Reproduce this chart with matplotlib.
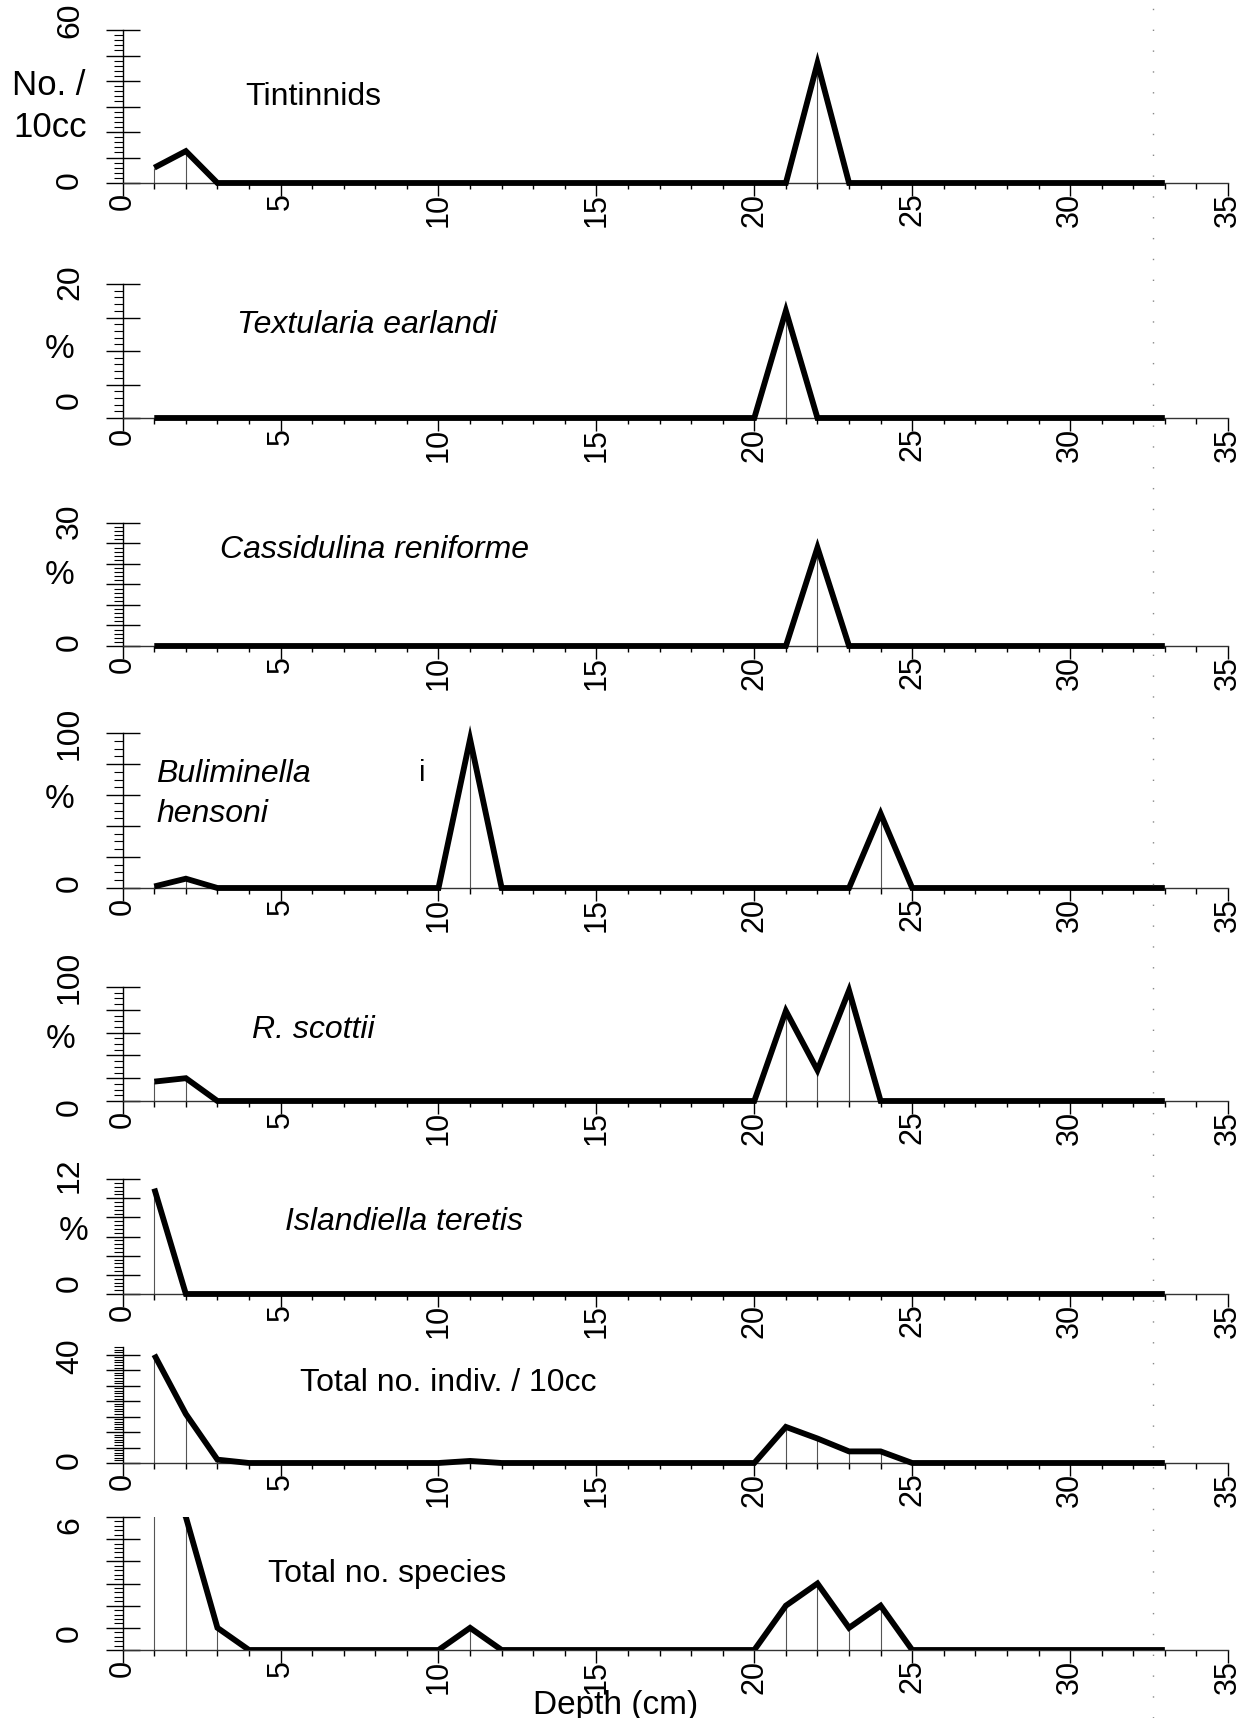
import matplotlib
matplotlib.use('Agg')
import matplotlib.pyplot as plt
from matplotlib.ticker import MultipleLocator
from matplotlib.transforms import offset_copy
from matplotlib.lines import Line2D

plt.rcParams['font.family'] = ['Liberation Sans', 'DejaVu Sans']

# --- data (depth in cm, one value per 1 cm sample) ---
depth = list(range(1, 34))

tintinnids = [6, 12.5, 0, 0, 0, 0, 0, 0, 0, 0,
              0, 0, 0, 0, 0, 0, 0, 0, 0, 0,
              0, 47, 0, 0, 0, 0, 0, 0, 0, 0,
              0, 0, 0]
textularia = [0, 0, 0, 0, 0, 0, 0, 0, 0, 0,
              0, 0, 0, 0, 0, 0, 0, 0, 0, 0,
              16, 0, 0, 0, 0, 0, 0, 0, 0, 0,
              0, 0, 0]
cassidulina = [0, 0, 0, 0, 0, 0, 0, 0, 0, 0,
               0, 0, 0, 0, 0, 0, 0, 0, 0, 0,
               0, 24, 0, 0, 0, 0, 0, 0, 0, 0,
               0, 0, 0]
buliminella = [1, 6, 0, 0, 0, 0, 0, 0, 0, 0,
               96, 0, 0, 0, 0, 0, 0, 0, 0, 0,
               0, 0, 0, 48, 0, 0, 0, 0, 0, 0,
               0, 0, 0]
r_scottii = [17, 20, 0, 0, 0, 0, 0, 0, 0, 0,
             0, 0, 0, 0, 0, 0, 0, 0, 0, 0,
             79, 27, 97, 0, 0, 0, 0, 0, 0, 0,
             0, 0, 0]
islandiella = [11, 0, 0, 0, 0, 0, 0, 0, 0, 0,
               0, 0, 0, 0, 0, 0, 0, 0, 0, 0,
               0, 0, 0, 0, 0, 0, 0, 0, 0, 0,
               0, 0, 0]
total_indiv = [42, 19, 1.3, 0, 0, 0, 0, 0, 0, 0,
               0.8, 0, 0, 0, 0, 0, 0, 0, 0, 0,
               14, 9.5, 4.5, 4.5, 0, 0, 0, 0, 0, 0,
               0, 0, 0]
total_species = [9, 6, 1, 0, 0, 0, 0, 0, 0, 0,
                 1, 0, 0, 0, 0, 0, 0, 0, 0, 0,
                 2, 3, 1, 2, 0, 0, 0, 0, 0, 0,
                 0, 0, 0]

series = [tintinnids, textularia, cassidulina, buliminella,
          r_scottii, islandiella, total_indiv, total_species]
y_max = [60, 20, 30, 100, 100, 12, 45, 6]
y_major = [10, 5, 5, 20, 20, 2, 6, 1]
y_minor = [2, 1, 1, 5, 5, 0.4, 1, 0.2]
y_labels = [[(0, '0'), (60, '60')], [(0, '0'), (20, '20')],
            [(0, '0'), (30, '30')], [(0, '0'), (100, '100')],
            [(0, '0'), (100, '100')], [(0, '0'), (12, '12')],
            [(0, '0'), (40, '40')], [(0, '0'), (6, '6')]]

# --- layout in pixels of the 1255x1718 canvas ---
W, H = 1255, 1718
x0_px, x35_px = 122.7, 1228
panel_px = [(30, 183), (284, 418), (523, 646), (733, 888),
            (987, 1101), (1179, 1294), (1347, 1463), (1517, 1650)]
ylab_dy = [(3, 10), (18, 2), (4, 2), (5, 0), (-6, 10), (11, 4), (3, 4), (17, -8)]

fig = plt.figure(figsize=(W / 100, H / 100), dpi=100)


def fx(x):
    return x / W


def fy(y):
    return 1 - y / H


for i, vals in enumerate(series):
    top, base = panel_px[i]
    ax = fig.add_axes([fx(x0_px), fy(base), fx(x35_px) - fx(x0_px), (base - top) / H])
    ax.patch.set_alpha(0)
    ax.set_xlim(0, 35)
    ax.set_ylim(0, y_max[i])
    for s in ['top', 'right']:
        ax.spines[s].set_visible(False)
    ax.spines['left'].set_linewidth(1)
    ax.spines['bottom'].set_linewidth(1)
    ax.spines['bottom'].set_color('#333333')

    pos = [(d, v) for d, v in zip(depth, vals) if v > 0]
    ax.vlines([p[0] for p in pos], 0, [p[1] for p in pos],
              color='#555555', lw=0.8, zorder=2)
    clip = max(vals) > y_max[i]
    ax.plot(depth, vals, color='black', lw=4.2, solid_joinstyle='miter',
            solid_capstyle='butt', clip_on=clip, zorder=3)

    ax.xaxis.set_major_locator(MultipleLocator(5))
    ax.xaxis.set_minor_locator(MultipleLocator(1))
    ax.tick_params(axis='x', which='major', direction='out', length=9, width=1,
                   labelsize=22, labelrotation=90, pad=-2)
    ax.tick_params(axis='x', which='minor', direction='out', length=4.5, width=1)

    ax.yaxis.set_major_locator(MultipleLocator(y_major[i]))
    ax.yaxis.set_minor_locator(MultipleLocator(y_minor[i]))
    ax.tick_params(axis='y', which='major', direction='inout', length=24, width=1,
                   labelleft=False)
    ax.tick_params(axis='y', which='minor', direction='out', length=6.5, width=0.8)

    for (val, txt), dy in zip(y_labels[i], ylab_dy[i]):
        tr = offset_copy(ax.get_yaxis_transform(), fig=fig, x=70 - x0_px, y=dy, units='dots')
        ax.text(0, val, txt, transform=tr, rotation=90, ha='center', va='center',
                fontsize=23, clip_on=False)

# --- panel names ---
names = ['Tintinnids', 'Textularia earlandi', 'Cassidulina reniforme',
         'Buliminella\nhensoni', 'R. scottii', 'Islandiella teretis',
         'Total no. indiv. / 10cc', 'Total no. species']
name_style = ['normal', 'italic', 'italic', 'italic', 'italic', 'italic', 'normal', 'normal']
name_px = [(245, 105), (237, 333), (220, 558), (156, 782), (252, 1038),
           (285, 1230), (300, 1391), (268, 1582)]
for nm, st, (x, y) in zip(names, name_style, name_px):
    lines = nm.split('\n')
    for k, ln in enumerate(lines):
        fig.text(fx(x), fy(y + 40 * k), ln, fontsize=23, style=st,
                 ha='left', va='baseline')

fig.text(fx(422), fy(773), 'i', fontsize=21, ha='center', va='center')

# --- unit labels ---
fig.text(fx(12), fy(95), 'No. /', fontsize=25, ha='left', va='baseline')
fig.text(fx(13), fy(137), '10cc', fontsize=25, ha='left', va='baseline')
for x, y in [(60, 350), (60, 575), (60, 799), (61, 1039), (74, 1232)]:
    fig.text(fx(x), fy(y), '%', fontsize=24, ha='center', va='center')

fig.text(fx(616), fy(1690), 'Depth (cm)', fontsize=24, ha='center', va='top')

# faint dotted scan line on the right
fig.add_artist(Line2D([fx(1153), fx(1153)], [0, 1], transform=fig.transFigure,
                      color='#888888', lw=1, dashes=(1, 14)))

fig.savefig('out.png', dpi=100, facecolor='white')
